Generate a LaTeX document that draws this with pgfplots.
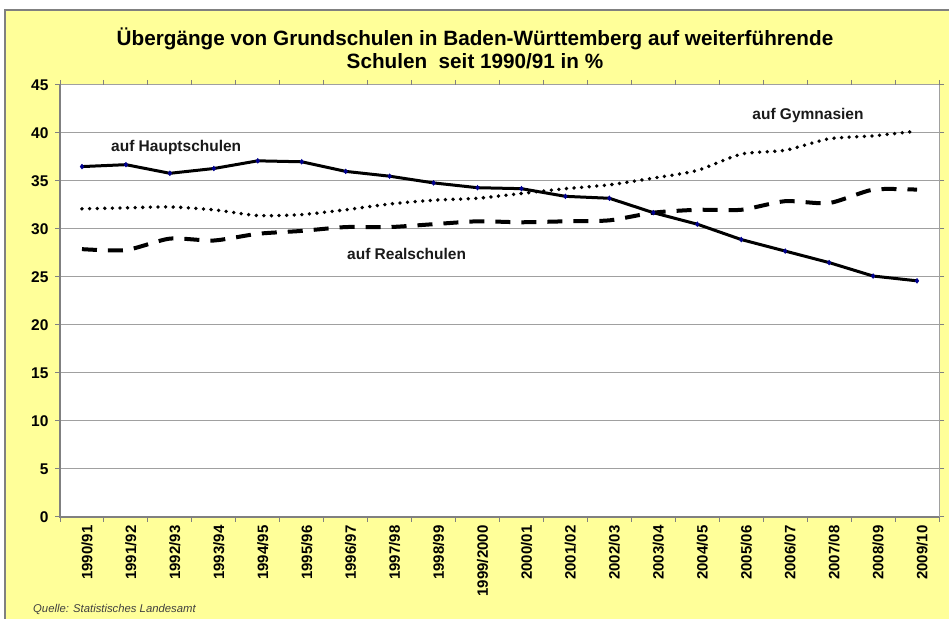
\documentclass[border=0pt]{standalone}
\usepackage{pgfplots}
\pgfplotsset{compat=1.18}
\usepackage{pgfplotstable}
\usepackage{fontspec}
\setmainfont{Liberation Sans}
\definecolor{bgyellow}{HTML}{FFFF99}
\definecolor{gridgray}{HTML}{A0A0A0}
\definecolor{axgray}{HTML}{808080}
\definecolor{mkblue}{HTML}{000090}
\definecolor{txt}{HTML}{1A1A1A}
\pgfplotstableread{
x H G R
0 36.5 32.1 27.9
1 36.7 32.2 27.8
2 35.8 32.3 29.0
3 36.3 32.0 28.8
4 37.1 31.4 29.5
5 37.0 31.5 29.8
6 36.0 32.0 30.2
7 35.5 32.6 30.2
8 34.8 33.0 30.5
9 34.3 33.2 30.8
10 34.2 33.7 30.7
11 33.4 34.2 30.8
12 33.2 34.6 30.9
13 31.7 35.3 31.7
14 30.5 36.1 32.0
15 28.9 37.8 32.0
16 27.7 38.2 32.9
17 26.5 39.4 32.7
18 25.1 39.7 34.1
19 24.6 40.2 34.1
}\datatable
\begin{document}
\begin{tikzpicture}[x=1bp,y=1bp]
\path[use as bounding box] (0,0) rectangle (949,619);
\fill[white] (0,0) rectangle (949,619);
\filldraw[fill=bgyellow, draw=axgray, line width=1.5bp] (5,-2) rectangle (951,609);
\node[align=center, font=\fontsize{20.7bp}{23bp}\selectfont\bfseries, text=black] at (475,570.5)
  {Übergänge von Grundschulen in Baden-Württemberg auf weiterführende\\Schulen\ \ seit 1990/91 in \%};
\node[anchor=west, font=\fontsize{11.3bp}{13bp}\selectfont\itshape, text=black!75, inner sep=0pt] at (33,10) {Quelle: Statistisches Landesamt};
\begin{axis}[at={(60bp,102bp)}, anchor=south west, scale only axis,
  width=879bp, height=432bp,
  xmin=-0.5, xmax=19.5, ymin=0, ymax=45,
  ytick={0,5,...,45},
  xtick={0,...,19},
  xticklabels={1990/91,1991/92,1992/93,1993/94,1994/95,1995/96,1996/97,1997/98,1998/99,1999/2000,2000/01,2001/02,2002/03,2003/04,2004/05,2005/06,2006/07,2007/08,2008/09,2009/10},
  axis background/.style={fill=white},
  axis line style={draw=gridgray, line width=1bp},
  ymajorgrids, grid style={draw=gridgray, line width=1bp},
  tick align=outside, major tick length=5bp,
  xtick style={draw=none},
  ytick style={draw=axgray, line width=1bp},
  extra x ticks={-0.5,0.5,...,19.5}, extra x tick labels={},
  extra x tick style={grid=none, xtick style={draw=axgray, line width=1bp}},
  /pgf/number format/assume math mode=true,
  yticklabel style={font=\fontsize{15.5bp}{17bp}\selectfont\bfseries, text=black, xshift=-3bp},
  xticklabel style={font=\fontsize{15bp}{17bp}\selectfont\bfseries, text=black, rotate=90, anchor=east, yshift=-5bp},
  clip=false,
]
\draw[axgray, line width=1.2bp] (rel axis cs:0,1) -- (rel axis cs:0,0) -- (rel axis cs:1,0);
\addplot[black, line width=3bp, mark=diamond*, mark size=2.4bp, mark options={fill=mkblue, draw=mkblue, line width=0.5bp}] table[x=x, y=H] {\datatable};
\addplot[black, line width=3.8bp, smooth, tension=0.4, line cap=round, dash pattern=on 0bp off 7.6bp] table[x=x, y=G] {\datatable};
\addplot[black, line width=4bp, smooth, tension=0.4, dash pattern=on 15bp off 11bp] table[x=x, y=R] {\datatable};
\node[anchor=west, inner sep=0pt, font=\fontsize{15.5bp}{17bp}\selectfont\bfseries, text=txt] at (axis cs:0.66,38.5) {auf Hauptschulen};
\node[anchor=west, inner sep=0pt, font=\fontsize{15.5bp}{17bp}\selectfont\bfseries, text=txt] at (axis cs:6.03,27.4) {auf Realschulen};
\node[anchor=west, inner sep=0pt, font=\fontsize{15.5bp}{17bp}\selectfont\bfseries, text=txt] at (axis cs:15.25,41.8) {auf Gymnasien};
\end{axis}
\end{tikzpicture}
\end{document}
